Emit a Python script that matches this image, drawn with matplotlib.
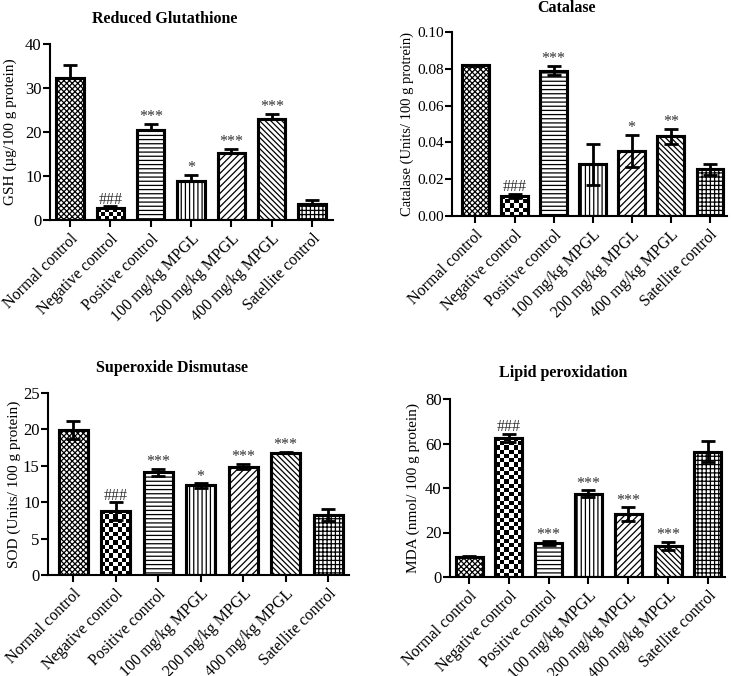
import matplotlib
matplotlib.use("Agg")
import matplotlib.pyplot as plt
import numpy as np

plt.rcParams["font.family"] = ["Liberation Serif", "DejaVu Serif"]
plt.rcParams["hatch.linewidth"] = 0.9

W, H = 731, 676

groups = ["Normal control", "Negative control", "Positive control",
          "100 mg/kg MPGL", "200 mg/kg MPGL", "400 mg/kg MPGL", "Satellite control"]

# GSH
gsh_mean = [32.3, 2.7, 20.4, 8.9, 15.3, 23.0, 3.6]
gsh_err = [2.9, 0.4, 1.4, 1.4, 0.9, 1.2, 0.9]
gsh_sig = ["", "###", "***", "*", "***", "***", ""]

# catalase
cat_mean = [0.0818, 0.0110, 0.0790, 0.0280, 0.0353, 0.0433, 0.0253]
cat_err = [0.0005, 0.0012, 0.0025, 0.0113, 0.0088, 0.0040, 0.0031]
cat_sig = ["", "###", "***", "", "*", "**", ""]

# SOD
sod_mean = [19.9, 8.8, 14.1, 12.3, 14.9, 16.8, 8.2]
sod_err = [1.2, 1.2, 0.5, 0.3, 0.4, 0.1, 0.85]
sod_sig = ["", "###", "***", "*", "***", "***", ""]

# MDA
mda_mean = [9.2, 62.5, 15.3, 37.4, 28.3, 14.0, 56.4]
mda_err = [0.3, 1.8, 0.8, 1.5, 3.0, 1.8, 4.9]
mda_sig = ["", "###", "***", "***", "***", "***", ""]

hatches = ["xxxxxx", "", "----", "||||", "/////", "\\\\\\\\\\\\", "++++"]
CHECKER = 1  # index of the checkerboard bar
CELL = 4.2   # checker cell size in px

fig = plt.figure(figsize=(W / 100, H / 100), dpi=100)


def px_rect(left, top, right, bottom):
    return [left / W, 1 - bottom / H, (right - left) / W, (bottom - top) / H]


def checker(ax, bar, x, w, h):
    # checkerboard fill for one bar, clipped to the bar
    p0 = ax.transData.transform((x - w / 2, 0))
    p1 = ax.transData.transform((x + w / 2, h))
    ncol = max(1, int(round(abs(p1[0] - p0[0]) / CELL)))
    nrow = max(1, int(round(abs(p1[1] - p0[1]) / CELL)))
    ii, jj = np.indices((nrow, ncol))
    board = (ii + jj) % 2
    im = ax.imshow(board, cmap="gray", extent=(x - w / 2, x + w / 2, 0, h),
                   aspect="auto", interpolation="nearest", origin="lower", zorder=2.1)
    im.set_clip_path(bar)


def panel(rect, mean, err, sig, yticks, fmt, ylabel, label_x, title, title_xy,
          xlim, ysize=12, lsize=11, err_behind=False):
    ax = fig.add_axes(rect)
    x = np.arange(len(groups))
    w = 0.68
    ax.set_xlim(*xlim)
    ax.set_ylim(0, yticks[-1])

    bars = ax.bar(x, mean, w, color="white", edgecolor="black", linewidth=2.2,
                  zorder=2)
    for b, hatch in zip(bars, hatches):
        b.set_hatch(hatch)
    checker(ax, bars[CHECKER], x[CHECKER], w, mean[CHECKER])
    ax.bar(x, mean, w, fill=False, edgecolor="black", linewidth=2.2, zorder=3)

    ax.errorbar(x, mean, yerr=err, fmt="none", ecolor="black", elinewidth=2,
                capsize=5, capthick=2, zorder=1 if err_behind else 4)

    for i, s in enumerate(sig):
        if s:
            ax.annotate(s, (x[i], mean[i] + err[i]), xytext=(0, -1),
                        textcoords="offset points", ha="center", va="bottom",
                        fontsize=11.5, color="#333333", zorder=5)

    ax.set_xlim(*xlim)
    ax.set_ylim(0, yticks[-1])
    ax.set_yticks(yticks)
    ax.set_yticklabels([fmt.format(v) for v in yticks])
    ax.set_xticks(x)
    ax.set_xticklabels(groups, rotation=45, ha="right", rotation_mode="anchor")
    for s in ["top", "right"]:
        ax.spines[s].set_visible(False)
    for s in ["left", "bottom"]:
        ax.spines[s].set_linewidth(1.5)
    ax.tick_params(axis="both", direction="out", width=1.5, length=5)
    ax.tick_params(axis="x", pad=3, labelsize=11.5)
    ax.tick_params(axis="y", pad=1, labelsize=ysize)
    ax.set_ylabel(ylabel, fontsize=lsize)
    ax.yaxis.set_label_coords(label_x, 0.5)
    fig.text(title_xy[0] / W, 1 - title_xy[1] / H, title, ha="center",
             va="center", fontsize=11.5, fontweight="bold")
    return ax


panel(px_rect(50, 44, 333, 220), gsh_mean, gsh_err, gsh_sig,
      [0, 10, 20, 30, 40], "{:.0f}", "GSH (\u00b5g/100 g protein)", -0.117,
      "Reduced Glutathione", (165, 19), (-0.5, 6.52), err_behind=True)

panel(px_rect(452, 32, 727, 216), cat_mean, cat_err, cat_sig,
      [0.0, 0.02, 0.04, 0.06, 0.08, 0.10], "{:.2f}",
      "Catalase (Units/ 100 g protrein)", -0.14,
      "Catalase", (567, 8), (-0.6, 6.44), ysize=11, lsize=10.5)

panel(px_rect(48, 393, 349, 575), sod_mean, sod_err, sod_sig,
      [0, 5, 10, 15, 20, 25], "{:.0f}", "SOD (Units/ 100 g protein)", -0.09,
      "Superoxide Dismutase", (172, 368), (-0.59, 6.49))

panel(px_rect(450, 399, 725, 577), mda_mean, mda_err, mda_sig,
      [0, 20, 40, 60, 80], "{:.0f}", "MDA (nmol/ 100 g protein)", -0.109,
      "Lipid peroxidation", (563, 373), (-0.48, 6.43))

fig.savefig("out.png", dpi=100)
